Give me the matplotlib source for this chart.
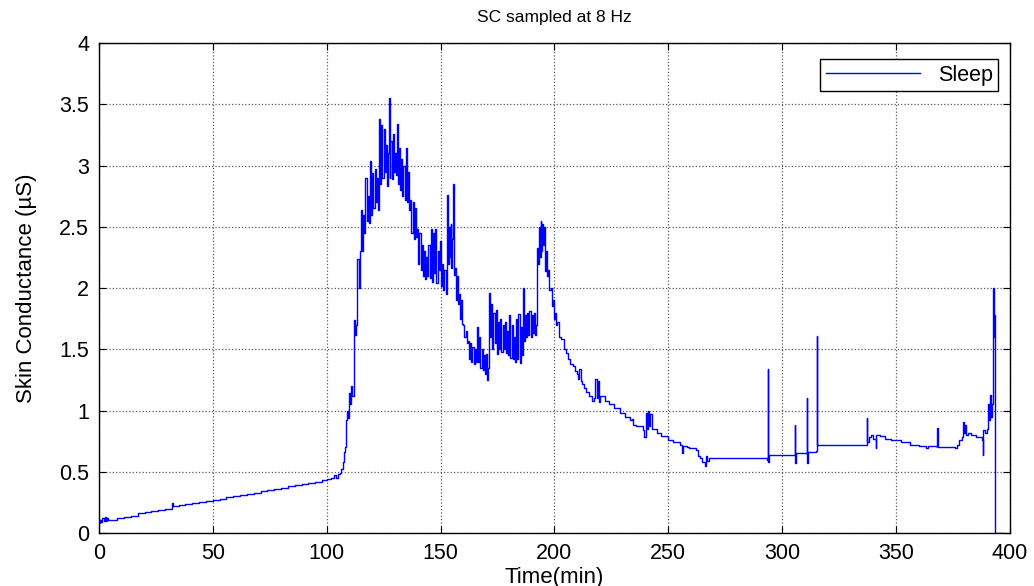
import matplotlib
matplotlib.use("Agg")
import matplotlib.pyplot as plt
from matplotlib.ticker import FormatStrFormatter

title = "SC sampled at 8 Hz"
x_label = "Time(min)"
y_label = "Skin Conductance (\u00b5S)"
series_label = "Sleep"
x_ticks = [0, 50, 100, 150, 200, 250, 300, 350, 400]
y_ticks = [0, 0.5, 1, 1.5, 2, 2.5, 3, 3.5, 4]

# (time in min, skin conductance in uS)
time_min = [
    0, 0.5, 1, 1.5, 2, 2.5, 3, 3.5, 4, 5, 8, 11, 14, 17, 20, 23, 26, 29, 32, 32.4, 35, 38, 41, 44, 47, 50,
    53, 56, 59, 62, 65, 68, 71, 74, 77, 80, 83, 86, 89, 92, 95, 98, 100, 102, 103, 104, 105, 106,
    106.5, 107, 107.5, 108, 108.5, 108.8, 109.2, 109.7, 110.2, 110.7, 111.2, 111.8, 112.2, 112.6, 113, 113.4,
    113.5, 114, 114.5, 115, 115.5, 116, 116.5, 117, 117.5, 118, 118.5, 119, 119.5, 120, 120.5, 121, 121.5, 122,
    122.5, 123, 123.5, 124, 124.5, 125, 125.5, 126, 126.5, 127, 127.3, 127.6, 128, 128.5, 129, 129.5, 130, 130.5,
    130.8, 131.2, 131.7, 132.2, 132.7, 133.2, 133.7, 134.2, 134.7, 135.2, 135.7, 136.2, 136.7, 137.2, 137.7, 138.2,
    138.7, 139.2, 139.7, 140.2, 140.7, 141.2, 141.7, 142.2, 142.7, 143.2, 143.7, 144.2, 144.7, 145.2, 145.7, 146.2,
    146.7, 147.2, 147.7, 148.2, 148.7, 149.2, 149.7, 150.2, 150.7, 151.2, 151.7, 152.2, 152.8, 153.2, 153.6, 154,
    154.4, 154.8, 155.2, 155.5, 155.9, 156.3, 156.7, 157.1, 157.5, 158, 158.5, 159, 159.5, 160, 160.5, 161, 161.5,
    162, 162.5, 163, 163.5, 164, 164.5, 165, 165.5, 166, 166.5, 167, 167.5, 168, 168.5, 169, 169.5, 170, 170.5,
    171, 171.2, 171.7, 172.2, 172.7, 173.2, 173.7, 174.2, 174.7, 175.2, 175.7, 176.2, 176.7, 177.2, 177.7, 178.2,
    178.7, 179.2, 179.7, 180.2, 180.7, 181.2, 181.7, 182.2, 182.7, 183.2, 183.7, 184.2, 184.7, 185.2, 185.7, 186,
    186.5, 187, 187.5, 188, 188.5, 189, 189.5, 190, 190.5, 191, 191.5, 192, 192.3, 192.7, 193.1, 193.5, 193.9,
    194.3, 194.7, 195.1, 195.5, 195.9, 196.3, 196.8, 197.3, 197.8, 198.3, 198.8, 199.3, 199.8, 200.3, 200.8,
    201.3, 202, 203, 204, 205, 206, 207, 208, 209, 210, 210.5, 211, 211.5, 212, 213, 214, 215, 216.5, 217.5,
    218, 218.5, 219, 219.5, 220, 222, 224, 226, 229, 231, 233, 234, 234.5, 236, 239, 239.5, 240, 240.5, 241,
    241.5, 242, 243, 245, 247, 250, 252, 255, 256, 256.3, 258, 259, 262, 263, 264, 265, 266, 266.5, 267, 268,
    280, 293.5, 293.7, 293.9, 294.1, 305.3, 305.5, 305.7, 305.9, 310.6, 310.8, 311, 311.2, 315, 315.2, 315.4,
    337, 337.2, 337.4, 338, 339, 340, 341, 341.3, 343, 345, 348, 352, 356, 360, 363, 364, 368, 368.1, 368.3,
    372, 376, 376.6, 377.5, 379, 379.3, 379.7, 380.2, 380.7, 381.5, 383, 385, 387.6, 388, 388.2, 389, 390,
    390.4, 390.8, 391.2, 391.6, 392, 392.5, 392.8, 393.2, 393.4, 396.4,
]
sc_uS = [
    0.08, 0.11, 0.09, 0.12, 0.10, 0.13, 0.10, 0.12, 0.11, 0.11, 0.12, 0.13, 0.14, 0.16, 0.17, 0.18, 0.19, 0.20, 0.245, 0.22, 0.23, 0.24, 0.245, 0.25, 0.26, 0.27,
    0.28, 0.29, 0.30, 0.31, 0.32, 0.33, 0.34, 0.35, 0.36, 0.37, 0.38, 0.39, 0.40, 0.41, 0.42, 0.43, 0.44, 0.45, 0.47, 0.45, 0.48, 0.49,
    0.52, 0.58, 0.66, 0.70, 0.92, 1.00, 0.94, 1.14, 1.05, 1.20, 1.12, 1.21, 1.74, 1.62, 1.70, 2.20,
    2.24, 2.00, 2.30, 2.64, 2.30, 2.60, 2.45, 2.90, 2.55, 2.75, 2.53, 3.04, 2.60, 2.94, 2.65, 2.97, 2.70, 2.90,
    2.64, 3.38, 2.85, 3.33, 2.90, 3.30, 2.95, 3.17, 2.83, 3.10, 3.55, 2.90, 3.20, 2.89, 3.26, 2.95, 3.10, 2.92,
    3.34, 2.85, 3.14, 2.80, 3.05, 2.75, 3.00, 2.72, 3.14, 2.70, 2.95, 2.64, 2.72, 2.45, 2.70, 2.40,
    2.65, 2.42, 2.48, 2.20, 2.45, 2.15, 2.35, 2.10, 2.30, 2.07, 2.25, 2.10, 2.35, 2.08, 2.48, 2.05,
    2.45, 2.12, 2.48, 2.04, 2.30, 2.15, 2.38, 2.02, 2.20, 1.98, 2.15, 1.95, 2.76, 2.20, 2.50, 2.25,
    2.52, 2.16, 2.40, 2.85, 2.11, 2.16, 1.90, 2.10, 1.87, 1.95, 1.75, 1.90, 1.71, 1.70, 1.60, 1.65, 1.55,
    1.57, 1.42, 1.55, 1.40, 1.52, 1.38, 1.50, 1.40, 1.68, 1.40, 1.60, 1.35, 1.50, 1.33, 1.45, 1.30, 1.46, 1.25,
    1.35, 1.96, 1.60, 1.87, 1.50, 1.80, 1.55, 1.82, 1.46, 1.72, 1.50, 1.75, 1.48, 1.70, 1.50, 1.72,
    1.47, 1.65, 1.45, 1.78, 1.43, 1.70, 1.42, 1.60, 1.40, 1.75, 1.42, 1.79, 1.39, 1.68, 1.45, 2.00,
    1.57, 1.78, 1.60, 1.80, 1.62, 1.81, 1.60, 1.78, 1.63, 1.80, 1.62, 1.70, 2.33, 2.20, 2.50, 2.25, 2.55,
    2.30, 2.52, 2.35, 2.50, 2.14, 2.30, 2.10, 2.15, 1.98, 2.00, 1.85, 1.90, 1.75, 1.80, 1.70,
    1.72, 1.60, 1.58, 1.50, 1.47, 1.42, 1.38, 1.36, 1.32, 1.30, 1.26, 1.34, 1.24, 1.22, 1.18, 1.15, 1.12, 1.08, 1.10,
    1.26, 1.10, 1.24, 1.07, 1.12, 1.08, 1.05, 1.02, 0.98, 0.95, 0.92, 0.93, 0.88, 0.87, 0.84, 0.78, 0.98, 0.85, 1.00,
    0.87, 0.97, 0.85, 0.82, 0.79, 0.76, 0.74, 0.72, 0.65, 0.71, 0.70, 0.69, 0.68, 0.63, 0.61, 0.58, 0.55, 0.63, 0.59, 0.61,
    0.61, 0.60, 1.34, 0.58, 0.64, 0.64, 0.88, 0.57, 0.65, 0.65, 1.10, 0.57, 0.66, 0.67, 1.61, 0.72,
    0.72, 0.94, 0.74, 0.78, 0.80, 0.77, 0.69, 0.80, 0.79, 0.77, 0.76, 0.74, 0.72, 0.71, 0.69, 0.71, 0.70, 0.86, 0.70,
    0.70, 0.69, 0.72, 0.76, 0.78, 0.91, 0.82, 0.88, 0.80, 0.82, 0.80, 0.78, 0.76, 0.64, 0.84, 0.82, 0.85,
    1.05, 0.92, 1.13, 0.95, 1.05, 2.00, 1.60, 1.78, 0.00, 0.00,
]

plt.rcParams['font.family'] = ['Liberation Sans', 'DejaVu Sans']

fig = plt.figure(figsize=(10.34, 5.86), dpi=100)
ax = fig.add_axes([0.0957, 0.0904, 0.881, 0.8362])

ax.plot(time_min, sc_uS, color=(0, 0, 1), lw=1.0, drawstyle='steps-post', label=series_label)

ax.set_xlim(0, 400)
ax.set_ylim(0, 4)
ax.set_xticks(x_ticks)
ax.set_yticks(y_ticks)
ax.yaxis.set_major_formatter(FormatStrFormatter('%g'))
ax.tick_params(direction='in', length=5, width=0.8, top=True, right=True,
               labelsize=15.5, colors='black', pad=7)
for s in ax.spines.values():
    s.set_color('black')
    s.set_linewidth(1.0)
ax.grid(True, linestyle=':', color='0.35', linewidth=0.9)
ax.set_axisbelow(True)

ax.set_title(title, fontsize=12.5, pad=15)
ax.set_xlabel(x_label, fontsize=16, labelpad=2)
ax.set_ylabel(y_label, fontsize=16, labelpad=16)

leg = ax.legend(loc='upper right', bbox_to_anchor=(0.987, 0.967), fontsize=15.5,
                frameon=True, fancybox=False, edgecolor='black', framealpha=1,
                handlelength=4.4, borderpad=0.25, borderaxespad=0, handletextpad=0.8)
leg.get_frame().set_linewidth(1.0)

fig.savefig("out.png", dpi=100)
